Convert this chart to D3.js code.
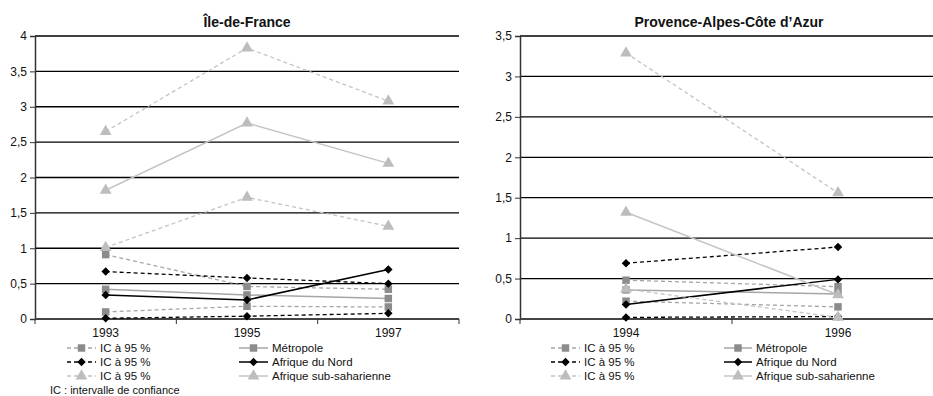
<!DOCTYPE html>
<html>
<head>
<meta charset="utf-8">
<script src="https://cdn.jsdelivr.net/npm/d3@7"></script>
<style>
  body { margin: 0; background: #fff; }
  svg { display: block; font-family: "Liberation Sans", Arial, sans-serif; }
</style>
</head>
<body>
<div id="chart"></div>
<script>
// Île-de-France
var idfYears = ["1993", "1995", "1997"];
var idfMetro = [0.42, 0.34, 0.29];
var idfMetroLo = [0.10, 0.18, 0.17];
var idfMetroHi = [0.91, 0.46, 0.42];
var idfNord = [0.34, 0.27, 0.70];
var idfNordLo = [0.01, 0.04, 0.08];
var idfNordHi = [0.67, 0.58, 0.50];
var idfSub = [1.82, 2.77, 2.20];
var idfSubLo = [1.01, 1.72, 1.31];
var idfSubHi = [2.65, 3.83, 3.08];
var idfTicks = [0, 0.5, 1, 1.5, 2, 2.5, 3, 3.5, 4];

// Provence-Alpes-Côte d'Azur
var pacaYears = ["1994", "1996"];
var pacaMetro = [0.36, 0.31];
var pacaMetroLo = [0.22, 0.15];
var pacaMetroHi = [0.48, 0.40];
var pacaNord = [0.18, 0.49];
var pacaNordLo = [0.02, 0.03];
var pacaNordHi = [0.69, 0.89];
var pacaSub = [1.32, 0.30];
var pacaSubLo = [0.37, 0.02];
var pacaSubHi = [3.29, 1.56];
var pacaTicks = [0, 0.5, 1, 1.5, 2, 2.5, 3, 3.5];

var legendLabels = ["IC à 95 %", "IC à 95 %", "IC à 95 %", "Métropole", "Afrique du Nord", "Afrique sub-saharienne"];

var W = 933, H = 396;
var svg = d3.select("#chart").append("svg").attr("width", W).attr("height", H);

var styles = {
  metro: { line: "#a6a6a6", fill: "#8c8c8c", shape: d3.symbolSquare, size: 56, rot: 0 },
  nord: { line: "#000", fill: "#000", shape: d3.symbolSquare, size: 36, rot: 45 },
  sub: { line: "#c4c4c4", fill: "#bdbdbd", shape: d3.symbolTriangle, size: 60, rot: 0 }
};

function drawPanel(opt) {
  var g = svg.append("g");
  var x = d3.scaleBand().domain(opt.years).range([opt.x0, opt.x1]);
  var y = d3.scaleLinear().domain([0, opt.ymax]).range([319, 36]);
  var fmt = function (d) { return String(d).replace(".", ","); };

  // gridlines
  g.selectAll("line.grid").data(opt.ticks.filter(function (d) { return d > 0; }))
    .enter().append("line")
    .attr("x1", opt.x0).attr("x2", opt.x1)
    .attr("y1", function (d) { return y(d); }).attr("y2", function (d) { return y(d); })
    .attr("stroke", "#000").attr("stroke-width", 1.3);

  // y axis
  var ya = d3.axisLeft(y).tickValues(opt.ticks).tickFormat(fmt).tickSize(5).tickPadding(3);
  var yg = g.append("g").attr("transform", "translate(" + opt.x0 + ",0)").call(ya);
  yg.select(".domain").attr("stroke", "#333").attr("stroke-width", 1.5);
  yg.selectAll(".tick line").attr("stroke", "#333");
  yg.selectAll("text").attr("font-size", 12).attr("fill", "#111")
    .attr("font-family", "Liberation Sans, Arial, sans-serif");

  // x axis (ticks at band boundaries)
  var xa = g.append("g").attr("transform", "translate(0," + y(0) + ")");
  xa.append("line").attr("x1", opt.x0).attr("x2", opt.x1)
    .attr("stroke", "#444").attr("stroke-width", 1.8);
  var bounds = opt.years.map(function (d) { return x(d); }).concat([opt.x1]);
  xa.selectAll("line.tk").data(bounds).enter().append("line")
    .attr("x1", function (d) { return d; }).attr("x2", function (d) { return d; })
    .attr("y1", 0).attr("y2", 5).attr("stroke", "#333");
  xa.selectAll("text").data(opt.years).enter().append("text")
    .attr("x", function (d) { return x(d) + x.bandwidth() / 2; })
    .attr("y", 18).attr("text-anchor", "middle")
    .attr("font-size", 12).attr("fill", "#111").text(function (d) { return d; });

  // title
  g.append("text").attr("x", opt.titleX).attr("y", 27).attr("text-anchor", "middle")
    .attr("font-size", 14).attr("font-weight", "bold").attr("fill", "#111").text(opt.title);

  var cx = function (d, i) { return x(opt.years[i]) + x.bandwidth() / 2; };
  var line = d3.line().x(cx).y(function (d) { return y(d); });

  opt.series.forEach(function (s) {
    var st = styles[s.key];
    g.append("path").datum(s.values).attr("d", line)
      .attr("fill", "none").attr("stroke", st.line)
      .attr("stroke-width", s.dash ? 1.3 : 1.5)
      .attr("stroke-dasharray", s.dash ? "4,3" : null);
    g.selectAll(null).data(s.values).enter().append("path")
      .attr("d", d3.symbol().type(st.shape).size(st.size))
      .attr("transform", function (d, i) {
        return "translate(" + cx(d, i) + "," + y(d) + ") rotate(" + st.rot + ")";
      })
      .attr("fill", st.fill);
  });

  // legend
  var rows = [["metro", true], ["nord", true], ["sub", true], ["metro", false], ["nord", false], ["sub", false]];
  rows.forEach(function (r, i) {
    var st = styles[r[0]];
    var col = i < 3 ? 0 : 1;
    var ly = 348 + (i % 3) * 14;
    var sx = col === 0 ? opt.legX[0] : opt.legX[2];
    var tx = col === 0 ? opt.legX[1] : opt.legX[3];
    g.append("line").attr("x1", sx).attr("x2", tx - 4).attr("y1", ly).attr("y2", ly)
      .attr("stroke", st.line).attr("stroke-width", 1.5)
      .attr("stroke-dasharray", r[1] ? "4,3" : null);
    g.append("path").attr("d", d3.symbol().type(st.shape).size(st.size))
      .attr("transform", "translate(" + (sx + tx - 4) / 2 + "," + ly + ") rotate(" + st.rot + ")")
      .attr("fill", st.fill);
    g.append("text").attr("x", tx).attr("y", ly + 4).attr("font-size", 11.5).attr("fill", "#111")
      .text(legendLabels[i]);
  });
  return g;
}

drawPanel({
  years: idfYears, x0: 35, x1: 459, ymax: 4, ticks: idfTicks,
  title: "Île-de-France", titleX: 247, legX: [67, 100, 239, 272],
  series: [
    { key: "metro", values: idfMetroLo, dash: true },
    { key: "metro", values: idfMetroHi, dash: true },
    { key: "metro", values: idfMetro },
    { key: "nord", values: idfNordLo, dash: true },
    { key: "nord", values: idfNordHi, dash: true },
    { key: "nord", values: idfNord },
    { key: "sub", values: idfSubLo, dash: true },
    { key: "sub", values: idfSubHi, dash: true },
    { key: "sub", values: idfSub }
  ]
});

drawPanel({
  years: pacaYears, x0: 520, x1: 944, ymax: 3.5, ticks: pacaTicks,
  title: "Provence-Alpes-Côte d\u2019Azur", titleX: 729, legX: [551, 584, 724, 756],
  series: [
    { key: "metro", values: pacaMetroLo, dash: true },
    { key: "metro", values: pacaMetroHi, dash: true },
    { key: "metro", values: pacaMetro },
    { key: "nord", values: pacaNordLo, dash: true },
    { key: "nord", values: pacaNordHi, dash: true },
    { key: "nord", values: pacaNord },
    { key: "sub", values: pacaSubLo, dash: true },
    { key: "sub", values: pacaSubHi, dash: true },
    { key: "sub", values: pacaSub }
  ]
});

svg.append("text").attr("x", 50).attr("y", 394).attr("font-size", 11).attr("fill", "#111")
  .text("IC : intervalle de confiance");
</script>
</body>
</html>
